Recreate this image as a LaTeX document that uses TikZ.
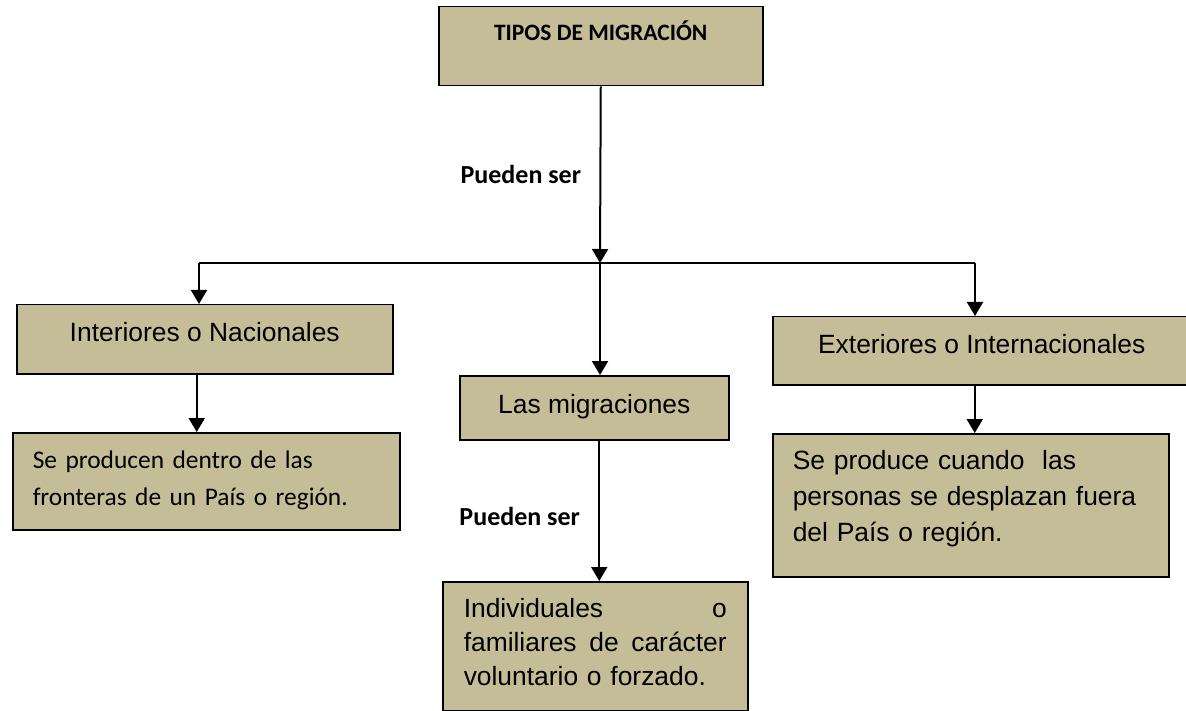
\documentclass[tikz,border=0pt]{standalone}
\usepackage{fontspec}
\setmainfont{Liberation Sans}
\newfontfamily\carlitofont{Carlito}
\usetikzlibrary{arrows.meta}
\definecolor{boxtan}{HTML}{C4BD97}
\begin{document}
\begin{tikzpicture}[x=1pt,y=-1pt,
  box/.style={draw=black, line width=1.5pt, fill=boxtan, inner sep=0pt, anchor=north west},
  conn/.style={line width=2pt, draw=black},
  arr/.style={conn, -{Triangle[length=14pt,width=16pt]}},
  arialtxt/.style={font=\fontsize{26.4}{34}\selectfont},
  calitxt/.style={font=\carlitofont\fontsize{25.4}{37}\selectfont},
  lbl/.style={font=\carlitofont\bfseries\fontsize{26}{30}\selectfont, anchor=east, xshift=-15pt}
]
\useasboundingbox (0,0) rectangle (1186,711);
\begin{scope}
\clip (0,0) rectangle (1186,711);

% boxes
\node[box, minimum width=324pt, text height=34pt, text depth=45pt,
      font=\carlitofont\bfseries\fontsize{23.5}{28}\selectfont] (title) at (438,6) {TIPOS DE MIGRACIÓN};
\node[box, arialtxt, minimum width=376pt, text height=37pt, text depth=32pt] (inter) at (16,304) {Interiores o Nacionales};
\node[box, arialtxt, minimum width=269pt, text height=38pt, text depth=26pt] (mig) at (459,375) {Las migraciones};
\node[box, arialtxt, minimum width=418pt, text height=36.7pt, text depth=31.3pt] (ext) at (772,316) {Exteriores o Internacionales};

\node[box, calitxt, inner xsep=20pt, text width=347pt, align=left, text height=36pt, text depth=61pt] (ll) at (12,432)
  {Se producen dentro de las\\fronteras de un País o región.};
\node[box, font=\fontsize{26.4}{36}\selectfont, inner xsep=20pt, text width=356pt, align=left, text height=36pt, text depth=107pt] (lr) at (772,433)
  {Se produce cuando\ \ las\\personas se desplazan fuera\\del País o región.};
\node[box, arialtxt, inner xsep=21pt, text width=263pt, align=left, text height=36pt, text depth=93pt] (bm) at (442,581)
  {Individuales\hfill o\\familiares\hfill de\hfill carácter\\voluntario o forzado.};

% connectors
\coordinate (J) at (600,263);
\coordinate (L) at (199,263);
\coordinate (R) at (975,263);
\draw[arr] (title.south) -- node[lbl, midway] {Pueden ser} (J);
\draw[conn] (L) -- (R);
\draw[arr] (L) -- (L |- inter.north);
\draw[arr] (J) -- (J |- mig.north);
\draw[arr] (R) -- (R |- ext.north);

\coordinate (a1) at ([xshift=-8pt]inter.south);
\draw[arr] (a1) -- (a1 |- ll.north);
\coordinate (a2) at ([xshift=-7pt]ext.south);
\draw[arr] (a2) -- (a2 |- lr.north);
\coordinate (a3) at ([xshift=5pt]mig.south);
\draw[arr] (a3) -- node[lbl, midway, yshift=-6pt] {Pueden ser} (a3 |- bm.north);
\end{scope}
\end{tikzpicture}
\end{document}
